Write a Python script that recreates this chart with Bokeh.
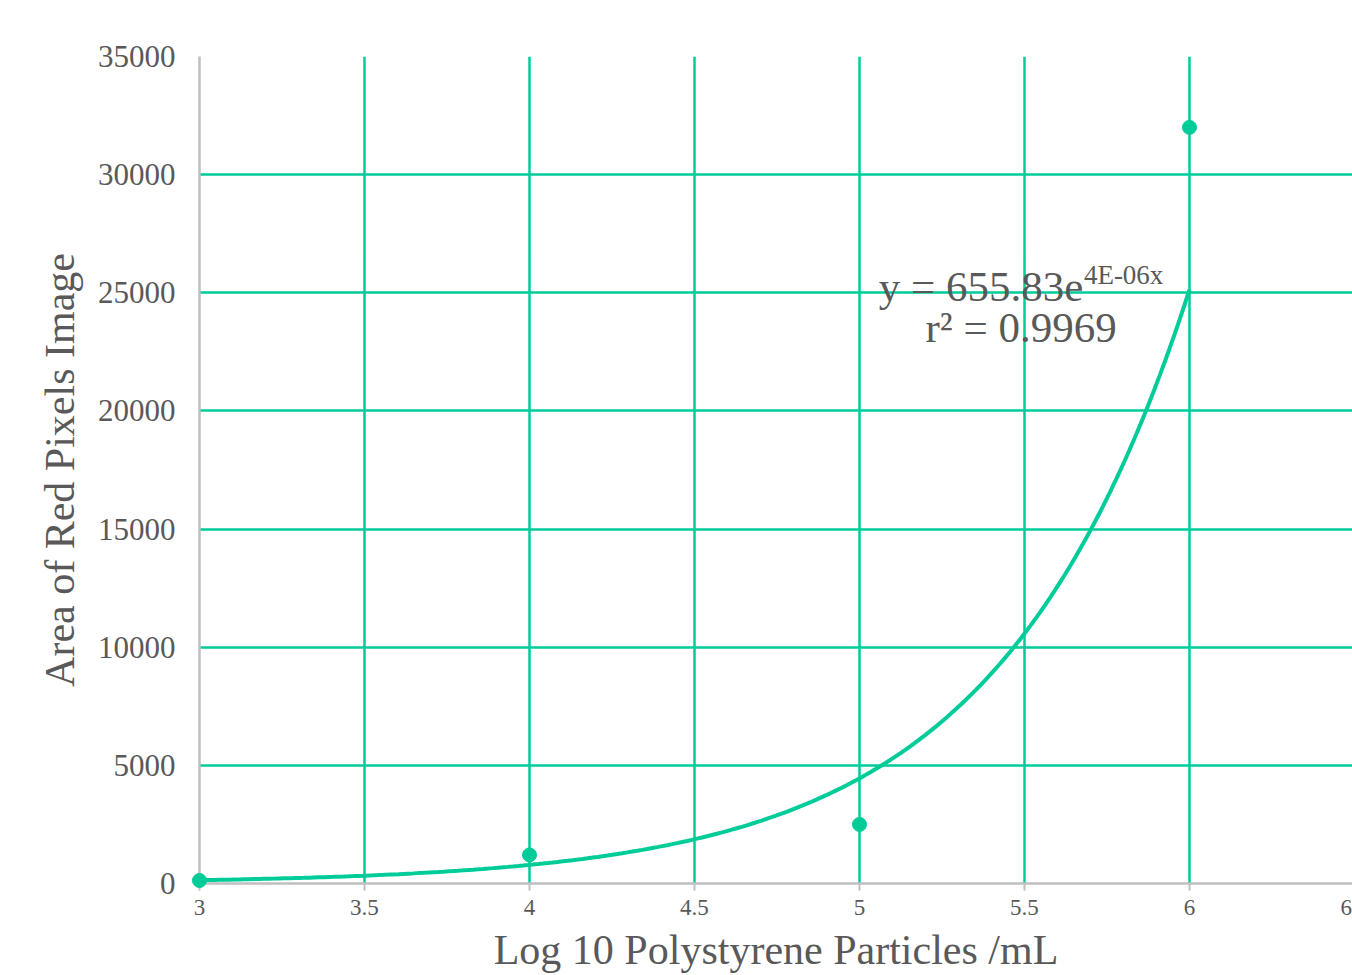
import numpy as np
from bokeh.plotting import figure
from bokeh.models import Range1d, FixedTicker, Label, ColumnDataSource
from bokeh.embed import file_html
from bokeh.resources import INLINE

# data
log_particles = [3, 4, 5, 6]
red_area = [127, 1210, 2500, 32000]
x_ticks = [3, 3.5, 4, 4.5, 5, 5.5, 6]
x_edge_tick = 6.475          # the cut-off last tick label at the right edge
y_ticks = [0, 5000, 10000, 15000, 20000, 25000, 30000, 35000]
equation_main = "y = 655.83e"
equation_exp = "4E-06x"
r2_text = "r² = 0.9969"

TEAL = "#00CC99"
GRAY_TXT = "#595959"
AX = "#BFBFBF"
FONT = "Liberation Serif"

# exponential trendline fitted to data (log-linear least squares)
b, ln_a = np.polyfit(np.array(log_particles, float), np.log(red_area), 1)
xs = np.linspace(log_particles[0], log_particles[-1], 200)
ys = np.exp(ln_a) * np.exp(b * xs)

p = figure(frame_width=1153, frame_height=827,
           x_range=Range1d(3, 6.494), y_range=Range1d(0, 35000),
           output_backend="svg", toolbar_location=None,
           min_border_left=199, min_border_right=0,
           min_border_top=56, min_border_bottom=92)
p.outline_line_color = None
p.background_fill_color = "white"
p.border_fill_color = "white"

p.xaxis.ticker = FixedTicker(ticks=x_ticks + [x_edge_tick], minor_ticks=x_ticks)
p.xaxis.major_label_overrides = {x_edge_tick: "6"}
p.yaxis.ticker = FixedTicker(ticks=y_ticks)
p.xgrid.ticker = FixedTicker(ticks=x_ticks[1:])
p.ygrid.ticker = FixedTicker(ticks=y_ticks[1:])
for g in (p.xgrid, p.ygrid):
    g.grid_line_color = TEAL
    g.grid_line_width = 2.5

for ax in (p.xaxis, p.yaxis):
    ax.axis_line_color = AX
    ax.axis_line_width = 2.5
    ax.major_label_text_color = GRAY_TXT
    ax.major_label_text_font = FONT
    ax.axis_label_text_color = GRAY_TXT
    ax.axis_label_text_font = FONT
    ax.axis_label_text_font_style = "normal"
    ax.axis_label_text_font_size = "42px"

p.xaxis.major_tick_line_color = None
p.xaxis.minor_tick_line_color = AX
p.xaxis.minor_tick_line_width = 2
p.xaxis.minor_tick_out = 7
p.xaxis.minor_tick_in = 0
p.xaxis.major_tick_out = 7
p.xaxis.major_tick_in = 0
p.xaxis.major_label_text_font_size = "23px"
p.xaxis.major_label_standoff = 9
p.xaxis.axis_label = "Log 10 Polystyrene Particles /mL"
p.xaxis.axis_label_standoff = 9

p.yaxis.major_tick_line_color = None
p.yaxis.minor_tick_line_color = None
p.yaxis.major_label_text_font_size = "31px"
p.yaxis.major_label_standoff = 18
p.yaxis.axis_label = "Area of Red Pixels Image"
p.yaxis.axis_label_standoff = 12

p.line(xs, ys, line_color=TEAL, line_width=4, level="annotation")
src = ColumnDataSource(dict(x=log_particles, y=red_area))
p.scatter("x", "y", source=src, size=14, fill_color=TEAL, line_color=TEAL,
          level="annotation")

p.add_layout(Label(x=5.058, y=25270, text=equation_main, text_font=FONT,
                   text_font_size="43px", text_color=GRAY_TXT,
                   text_baseline="alphabetic"))
p.add_layout(Label(x=5.68, y=25760, text=equation_exp, text_font=FONT,
                   text_font_size="27px", text_color=GRAY_TXT,
                   text_baseline="alphabetic"))
p.add_layout(Label(x=5.2, y=23520, text=r2_text, text_font=FONT,
                   text_font_size="43px", text_color=GRAY_TXT,
                   text_baseline="alphabetic"))

open("out.html", "w").write(file_html(p, INLINE))
